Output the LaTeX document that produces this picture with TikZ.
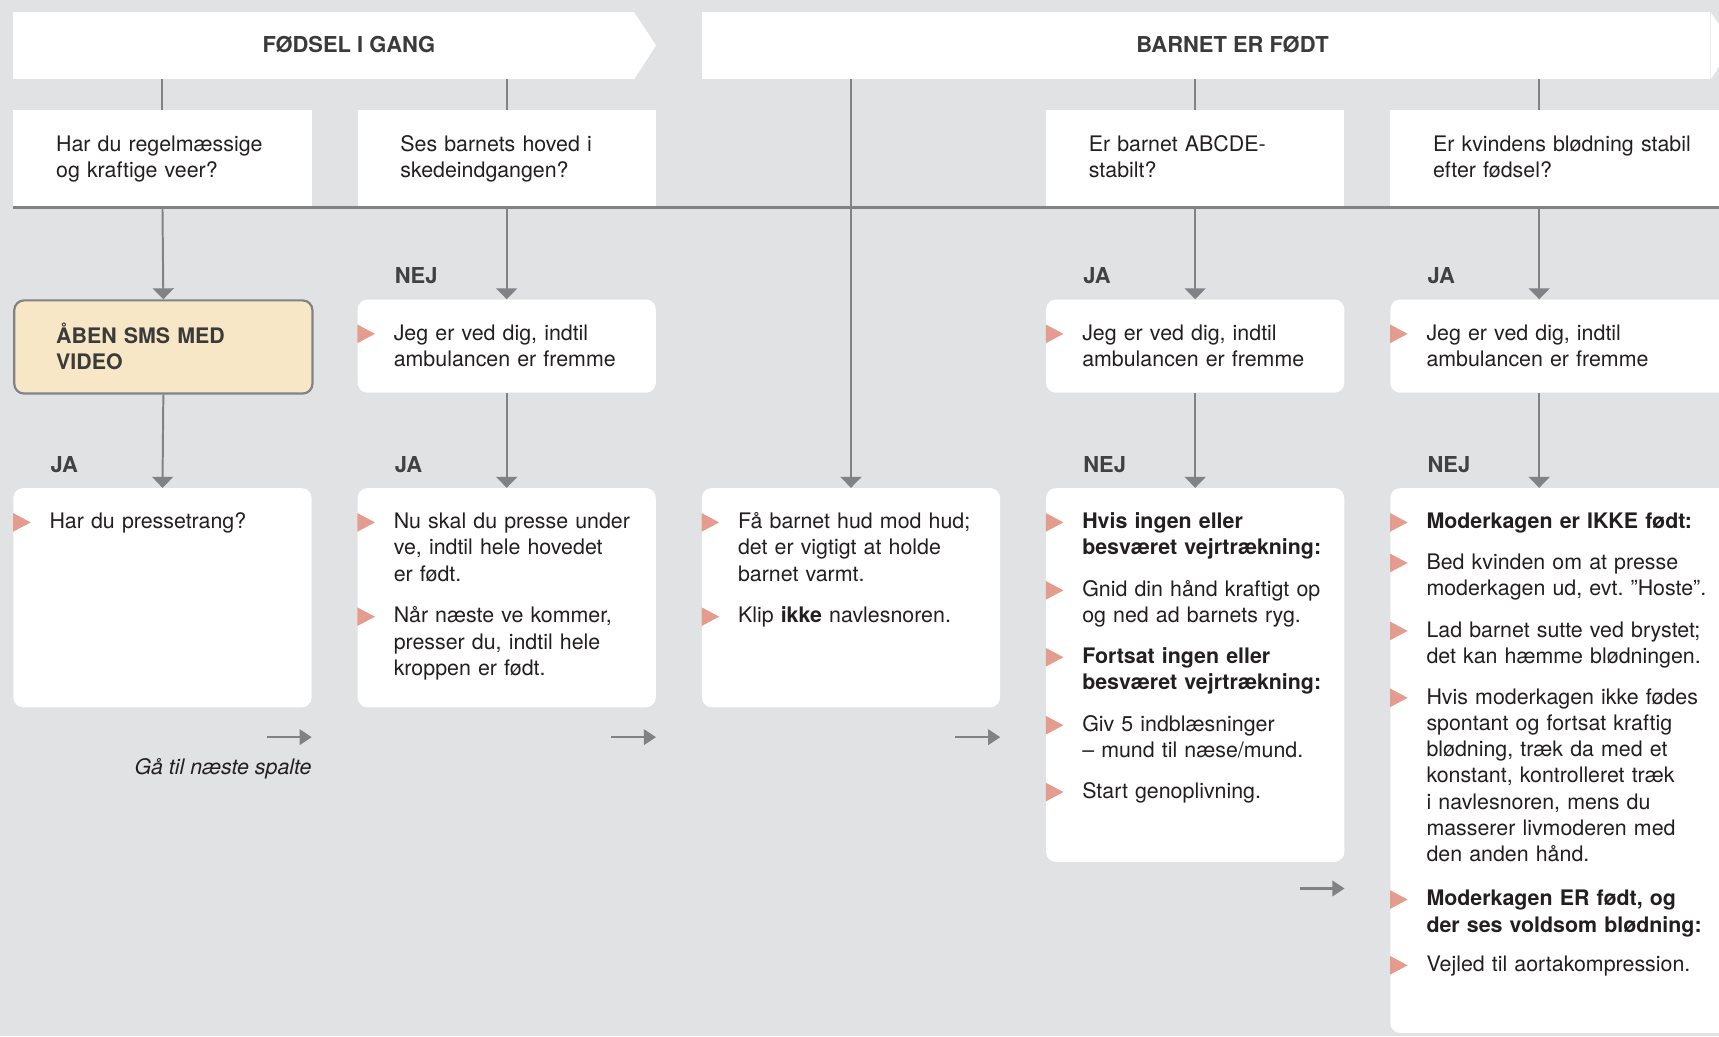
\documentclass[tikz,border=0pt]{standalone}
\usepackage{fontspec}
\setmainfont{TeX Gyre Heros}
\usetikzlibrary{arrows.meta,positioning}
\setlength{\parindent}{0pt}
\definecolor{bg}{HTML}{E1E2E4}
\definecolor{rulegray}{HTML}{808285}
\definecolor{ink}{HTML}{231F20}
\definecolor{headgray}{HTML}{3B3B3B}
\definecolor{lblgray}{HTML}{414042}
\definecolor{salmon}{HTML}{E39C8E}
\definecolor{smsfill}{HTML}{F8E7C6}
\tikzset{
  banner/.style={fill=white, anchor=north west, minimum height=61pt},
  head/.style={anchor=base, text=headgray, font=\bfseries\fontsize{20}{24}\selectfont},
  qbox/.style={fill=white, anchor=north west, minimum width=272pt, minimum height=89pt},
  abox/.style={fill=white, rounded corners=9pt, anchor=north west, minimum width=272pt, minimum height=85pt},
  sms/.style={abox, fill=smsfill, draw=rulegray, line width=2pt},
  yesno/.style={anchor=base west, text=lblgray, font=\bfseries\fontsize{20}{24}\selectfont},
  txt/.style={anchor=north west, text width=300pt, align=left, text=ink,
    font=\fontsize{19.5}{24}\selectfont, execute at begin node=\strut},
  btxt/.style={txt, append after command={\pgfextra{\fill[salmon]
    ([shift={(-33pt,-2.8pt)}]\tikzlastnode.north west) -- ++(16pt,-8.5pt) -- ++(-16pt,-8.5pt) -- cycle;}}},
  stem/.style={draw=rulegray, line width=1.8pt},
  flow/.style={stem, -{Triangle[width=19pt,length=10pt]}},
  onward/.style={draw=rulegray, line width=2.2pt, -{Triangle[width=14pt,length=11pt]}}
}
\begin{document}
\begin{tikzpicture}[x=1pt, y=1pt, every node/.style={inner sep=0pt}]
  \useasboundingbox (0,0) rectangle (1568,-945);
  \clip (0,0) rectangle (1568,-945);
  \fill[bg] (0,0) rectangle (1568,-945);

  % Phase banners
  \node[banner, minimum width=566pt] (h1) at (12,-11) {};
  \fill[white] (h1.north east) -- ++(20,-30.5) -- (h1.south east) -- cycle;
  \node[head] (h1t) at ([xshift=23pt,yshift=-6.5pt]h1.center) {FØDSEL I GANG};
  \node[banner, minimum width=920pt] (h2) at (640,-11) {};
  \fill[white] (h2.north east) -- ++(20,-30.5) -- (h2.south east) -- cycle;
  \node[head] (h2t) at ([xshift=24pt,yshift=-6.5pt]h2.center) {BARNET ER FØDT};

  % Questions
  \node[qbox] (q1) at (12,-100) {};
  \node[qbox] (q2) at (326,-100) {};
  \node[qbox] (q4) at (954,-100) {};
  \node[qbox, minimum width=320pt] (q5) at (1268,-100) {};
  \node[txt] (tq1) at ([xshift=39pt,yshift=-21.2pt]q1.north west) {Har du regelmæssige\\og kraftige veer?};
  \node[txt] (tq2) at ([xshift=39pt,yshift=-21.2pt]q2.north west) {Ses barnets hoved i\\skedeindgangen?};
  \node[txt] (tq4) at ([xshift=39pt,yshift=-21.2pt]q4.north west) {Er barnet ABCDE-\\stabilt?};
  \node[txt] (tq5) at ([xshift=39pt,yshift=-21.2pt]q5.north west) {Er kvindens blødning stabil\\efter fødsel?};

  % First answers
  \node[sms] (b1) at (12,-273) {};
  \node[abox] (a2) at (326,-273) {};
  \node[abox] (a4) at (954,-273) {};
  \node[abox, minimum width=320pt] (a5) at (1268,-273) {};
  \node[txt, font=\bfseries\fontsize{19.5}{24}\selectfont, text=headgray] (tb1) at ([xshift=39pt,yshift=-21pt]b1.north west) {ÅBEN SMS MED\\VIDEO};
  \node[btxt] (ta2) at ([xshift=33pt,yshift=-20.2pt]a2.north west) {Jeg er ved dig, indtil\\ambulancen er fremme};
  \node[btxt] (ta4) at ([xshift=33pt,yshift=-20.2pt]a4.north west) {Jeg er ved dig, indtil\\ambulancen er fremme};
  \node[btxt] (ta5) at ([xshift=33pt,yshift=-20.2pt]a5.north west) {Jeg er ved dig, indtil\\ambulancen er fremme};

  % Instructions
  \node[abox, minimum height=200pt] (c1) at (12,-445) {};
  \node[abox, minimum height=200pt] (c2) at (326,-445) {};
  \node[abox, minimum height=200pt] (c3) at (640,-445) {};
  \node[abox, minimum height=341pt] (c4) at (954,-445) {};
  \node[abox, minimum width=320pt, minimum height=497pt] (c5) at (1268,-445) {};

  \node[btxt] (t11) at ([xshift=33pt,yshift=-20.2pt]c1.north west) {Har du pressetrang?};

  \node[btxt] (t21) at ([xshift=33pt,yshift=-20.2pt]c2.north west) {Nu skal du presse under\\ve, indtil hele hovedet\\er født.};
  \node[btxt] (t22) at ([xshift=33pt,yshift=-106.2pt]c2.north west) {Når næste ve kommer,\\presser du, indtil hele\\kroppen er født.};

  \node[btxt] (t31) at ([xshift=33pt,yshift=-20.2pt]c3.north west) {Få barnet hud mod hud;\\det er vigtigt at holde\\barnet varmt.};
  \node[btxt] (t32) at ([xshift=33pt,yshift=-106.2pt]c3.north west) {Klip \textbf{ikke} navlesnoren.};

  \node[btxt] (t41) at ([xshift=33pt,yshift=-20.2pt]c4.north west) {\textbf{Hvis ingen eller\\besværet vejrtrækning:}};
  \node[btxt] (t42) at ([xshift=33pt,yshift=-82.2pt]c4.north west) {Gnid din hånd kraftigt op\\og ned ad barnets ryg.};
  \node[btxt] (t43) at ([xshift=33pt,yshift=-143.2pt]c4.north west) {\textbf{Fortsat ingen eller\\besværet vejrtrækning:}};
  \node[btxt] (t44) at ([xshift=33pt,yshift=-205.2pt]c4.north west) {Giv 5 indblæsninger\\– mund til næse/mund.};
  \node[btxt] (t45) at ([xshift=33pt,yshift=-266.2pt]c4.north west) {Start genoplivning.};

  \node[btxt] (t51) at ([xshift=33pt,yshift=-20.2pt]c5.north west) {\textbf{Moderkagen er IKKE født:}};
  \node[btxt] (t52) at ([xshift=33pt,yshift=-57.2pt]c5.north west) {Bed kvinden om at presse\\moderkagen ud, evt.\ ”Hoste”.};
  \node[btxt] (t53) at ([xshift=33pt,yshift=-119.2pt]c5.north west) {Lad barnet sutte ved brystet;\\det kan hæmme blødningen.};
  \node[btxt] (t54) at ([xshift=33pt,yshift=-180.2pt]c5.north west) {Hvis moderkagen ikke fødes\\spontant og fortsat kraftig\\blødning, træk da med et\\konstant, kontrolleret træk\\i navlesnoren, mens du\\masserer livmoderen med\\den anden hånd.};
  \node[btxt] (t55) at ([xshift=33pt,yshift=-364.2pt]c5.north west) {\textbf{Moderkagen ER født, og\\der ses voldsom blødning:}};
  \node[btxt] (t56) at ([xshift=33pt,yshift=-424.2pt]c5.north west) {Vejled til aortakompression.};

  % Answer labels
  \node[yesno] (l2) at ([xshift=34pt,yshift=14pt]a2.north west) {NEJ};
  \node[yesno] (l4) at ([xshift=34pt,yshift=14pt]a4.north west) {JA};
  \node[yesno] (l5) at ([xshift=34pt,yshift=14pt]a5.north west) {JA};
  \node[yesno] (m1) at ([xshift=34pt,yshift=14pt]c1.north west) {JA};
  \node[yesno] (m2) at ([xshift=34pt,yshift=14pt]c2.north west) {JA};
  \node[yesno] (m4) at ([xshift=34pt,yshift=14pt]c4.north west) {NEJ};
  \node[yesno] (m5) at ([xshift=34pt,yshift=14pt]c5.north west) {NEJ};

  % Connectors
  \draw[stem] (q1.north |- h1.south) -- (q1.north);
  \draw[stem] (q2.north |- h1.south) -- (q2.north);
  \draw[stem] (q4.north |- h2.south) -- (q4.north);
  \draw[stem] ([xshift=136pt]q5.north west |- h2.south) -- ([xshift=136pt]q5.north west);
  \draw[draw=rulegray, line width=2.6pt] (q1.south west) -- (q1.south west -| q5.south east);
  \draw[flow] (c3.north |- h2.south) -- (c3.north);
  \draw[flow] (q1.south) -- (b1.north);
  \draw[flow] (q2.south) -- (a2.north);
  \draw[flow] (q4.south) -- (a4.north);
  \draw[flow] ([xshift=136pt]q5.south west) -- ([xshift=136pt]a5.north west);
  \draw[flow] (b1.south) -- (c1.north);
  \draw[flow] (a2.south) -- (c2.north);
  \draw[flow] (a4.south) -- (c4.north);
  \draw[flow] ([xshift=136pt]a5.south west) -- ([xshift=136pt]c5.north west);

  % Go to next column
  \draw[onward] ([xshift=-41pt,yshift=-27pt]c1.south east) -- ([yshift=-27pt]c1.south east);
  \draw[onward] ([xshift=-41pt,yshift=-27pt]c2.south east) -- ([yshift=-27pt]c2.south east);
  \draw[onward] ([xshift=-41pt,yshift=-27pt]c3.south east) -- ([yshift=-27pt]c3.south east);
  \draw[onward] ([xshift=-41pt,yshift=-24pt]c4.south east) -- ([yshift=-24pt]c4.south east);
  \node[anchor=base east, text=ink, font=\itshape\fontsize{19.5}{24}\selectfont] (go) at ([yshift=-61pt]c1.south east) {Gå til næste spalte};
\end{tikzpicture}
\end{document}
